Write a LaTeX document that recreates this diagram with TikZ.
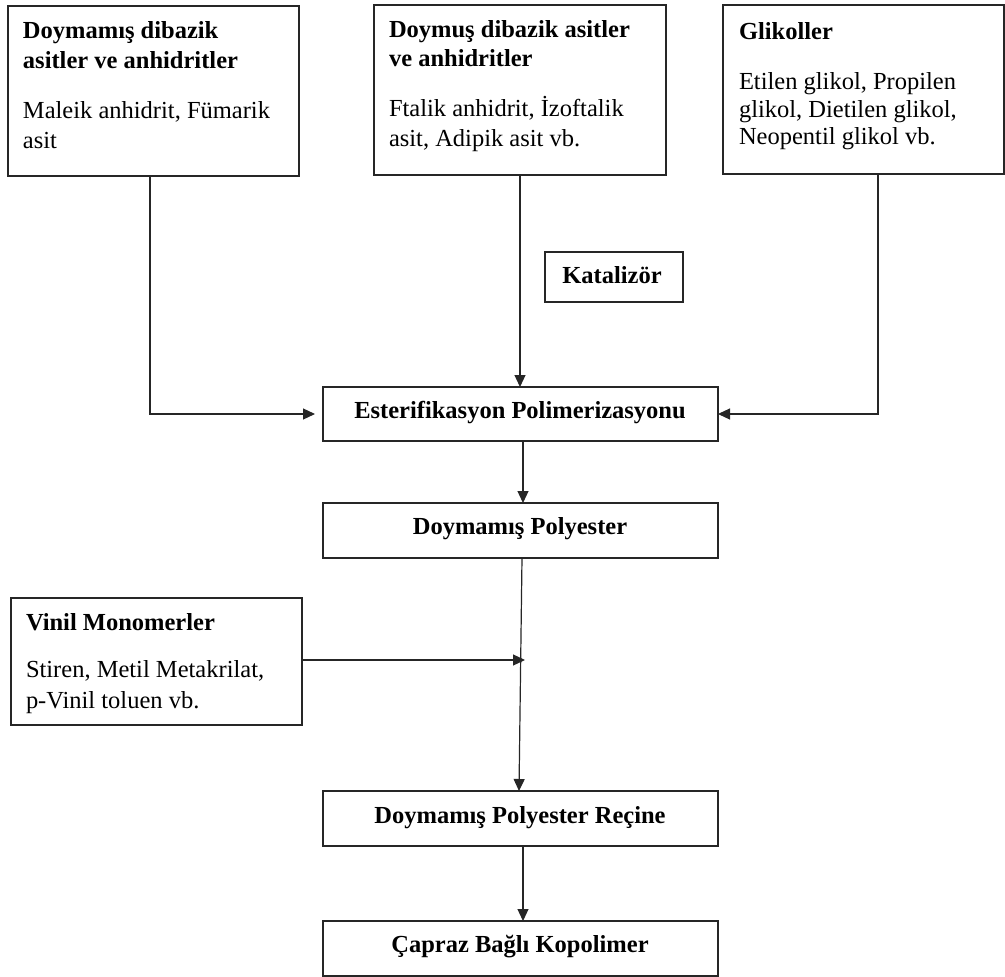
\documentclass[tikz,border=0pt]{standalone}
\usepackage{fontspec}
\setmainfont{Liberation Serif}
\usetikzlibrary{arrows.meta}
\tikzset{
  box/.style={draw=black!85, line width=1.2pt, inner sep=0pt, outer sep=0pt, anchor=north west},
  txt/.style={inner sep=0pt, outer sep=0pt, anchor=base west, font=\fontsize{24.5}{30}\selectfont},
  ctxt/.style={inner sep=0pt, outer sep=0pt, anchor=base, font=\fontsize{24.5}{30}\selectfont\bfseries},
  arr/.style={draw=black!85, line width=1.2pt, -{Triangle[length=12pt,width=11pt]}},
}
\begin{document}
\begin{tikzpicture}[x=1pt,y=-1pt]
\useasboundingbox (0,0) rectangle (1005,977);
% boxes
\node[box, minimum width=291pt, minimum height=170pt] (b1) at (8,6) {};
\node[box, minimum width=292pt, minimum height=170pt] (b2) at (374,5) {};
\node[box, minimum width=281pt, minimum height=169pt] (b3) at (723,5) {};
\node[box, minimum width=138pt, minimum height=50pt] (kat) at (545,252) {};
\node[box, minimum width=395pt, minimum height=54pt] (est) at (323,387) {};
\node[box, minimum width=395pt, minimum height=55pt] (dp) at (323,503) {};
\node[box, minimum width=291pt, minimum height=127pt] (vin) at (11,598) {};
\node[box, minimum width=395pt, minimum height=55pt] (rec) at (323,791) {};
\node[box, minimum width=395pt, minimum height=55pt] (cap) at (323,921) {};
% texts
\node[txt] (t1) at (23,38) {\parbox[t]{300pt}{\raggedright\bfseries Doymamış dibazik\\asitler ve anhidritler\\[20pt]\mdseries Maleik anhidrit, Fümarik\\asit}};
\node[txt] (t2) at (389,37) {\parbox[t]{300pt}{\raggedright\bfseries Doymuş dibazik asitler\\[-1pt]ve anhidritler\\[21pt]\mdseries Ftalik anhidrit, İzoftalik\\asit, Adipik asit vb.}};
\node[txt] (t3) at (739,39) {\parbox[t]{300pt}{\raggedright\bfseries Glikoller\\[21pt]\mdseries Etilen glikol, Propilen\\[-3pt]glikol, Dietilen glikol,\\[-3pt]Neopentil glikol vb.}};
\node[txt] (t4) at (26,630) {\parbox[t]{300pt}{\raggedright\bfseries Vinil Monomerler\\[17pt]\mdseries Stiren, Metil Metakrilat,\\[1pt]p-Vinil toluen vb.}};
\node[ctxt] (tk) at (612,283) {Katalizör};
\node[ctxt] (te) at (520,418) {Esterifikasyon Polimerizasyonu};
\node[ctxt] (td) at (520,534) {Doymamış Polyester};
\node[ctxt] (tr) at (520,823) {Doymamış Polyester Reçine};
\node[ctxt] (tc) at (520,952) {Çapraz Bağlı Kopolimer};
% connectors
\coordinate (vm) at (525,660);
\draw[arr] (b1.south -| 150,0) |- ([xshift=-8pt]est.west);
\draw[arr] (b3.south -| 878,0) |- (est.east);
\draw[arr] (b2.south -| 520,0) -- (est.north -| 520,0);
\draw[arr] (est.south -| 523,0) -- (dp.north -| 523,0);
\draw[arr] (dp.south -| 522,0) -- (rec.north -| 519,0);
\draw[arr] (vin.east |- vm) -- (vm);
\draw[arr] (rec.south -| 523,0) -- (cap.north -| 523,0);
\end{tikzpicture}
\end{document}
